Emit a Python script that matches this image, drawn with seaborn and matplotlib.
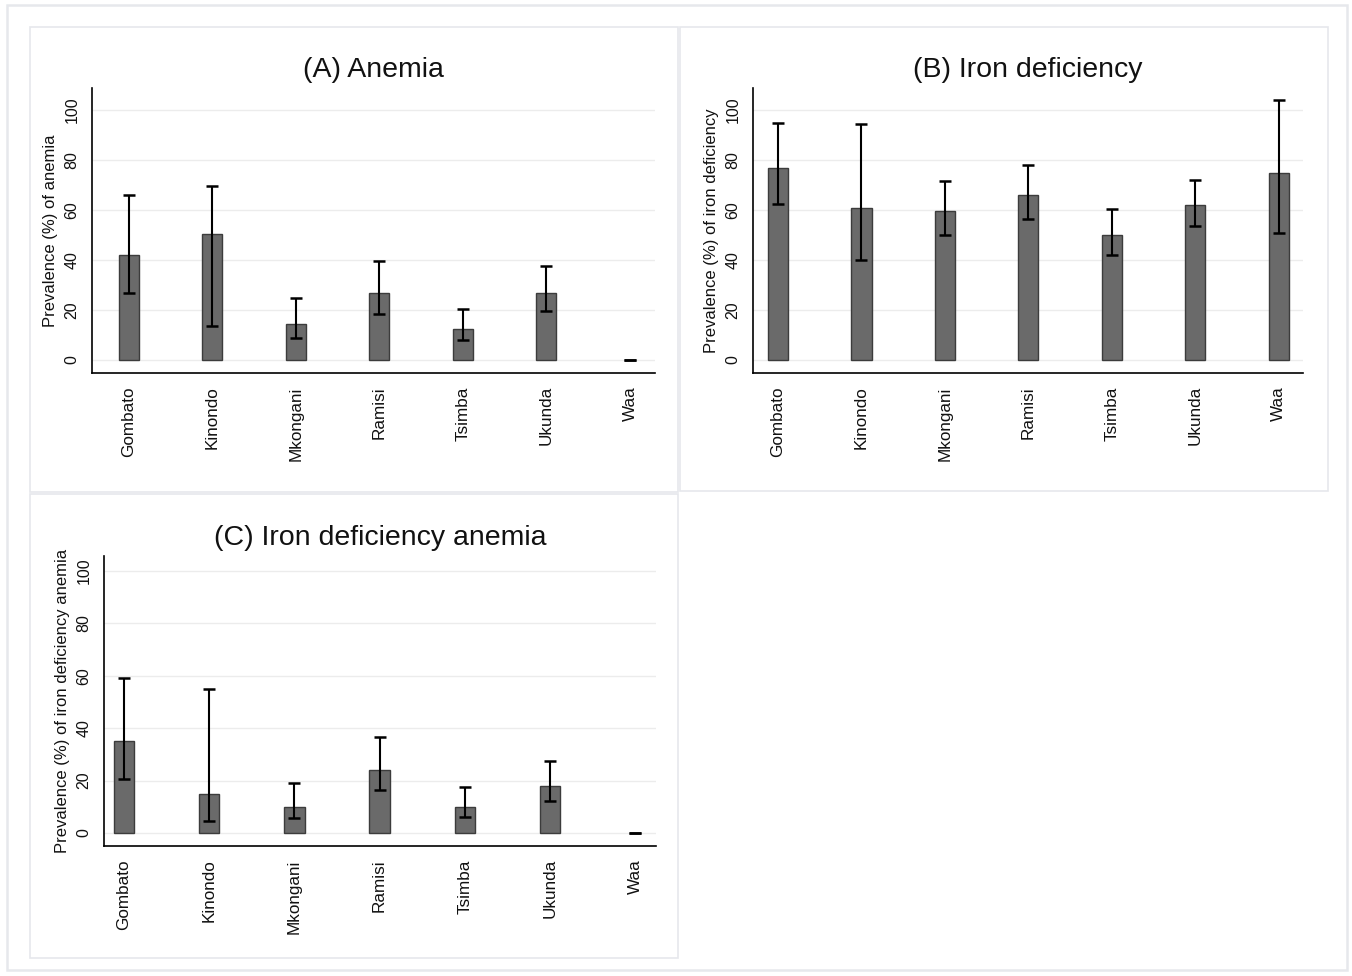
import matplotlib

matplotlib.use("Agg")

import matplotlib.pyplot as plt
import numpy as np
import pandas as pd
import seaborn as sns
from matplotlib.patches import Rectangle

villages = ["Gombato", "Kinondo", "Mkongani", "Ramisi", "Tsimba", "Ukunda", "Waa"]

# (A) Anemia
anemia = [42, 50.5, 14.5, 27, 12.5, 27, 0]
anemia_lo = [27, 13.5, 9, 18.5, 8, 19.5, 0]
anemia_hi = [66, 69.5, 25, 39.5, 20.5, 37.5, 0]

# (B) Iron deficiency
iron_def = [77, 61, 59.5, 66, 50, 62, 75]
iron_def_lo = [62.5, 40, 50, 56.5, 42, 53.5, 51]
iron_def_hi = [95, 94.5, 71.5, 78, 60.5, 72, 104]

# (C) Iron deficiency anemia
ida = [35, 15, 10, 24, 10, 18, 0]
ida_lo = [20.5, 4.5, 5.5, 16.5, 6, 12, 0]
ida_hi = [59, 55, 19, 36.5, 17.5, 27.5, 0]

yticks = [0, 20, 40, 60, 80, 100]

BAR_FILL = "#6a6a6a"
BAR_EDGE = "#3c3c3c"
FRAME = "#e6e8ec"


def draw_panel(ax, values, lo, hi, title, ylabel, xlim, ylim):
    df = pd.DataFrame({"village": villages, "prev": values})
    sns.barplot(data=df, x="village", y="prev", order=villages, ax=ax,
                color=BAR_FILL, saturation=1, width=0.24,
                edgecolor=BAR_EDGE, linewidth=1.0, errorbar=None)
    for p in ax.patches:
        if p.get_height() == 0:
            p.set_linewidth(0)

    xs = [p.get_x() + p.get_width() / 2 for p in ax.patches]
    v = np.array(values, dtype=float)
    yerr = [v - np.array(lo), np.array(hi) - v]
    ax.errorbar(xs, v, yerr=yerr, fmt="none", ecolor="black",
                elinewidth=1.5, capsize=4, capthick=1.8, zorder=3)

    ax.set_xlim(*xlim)
    ax.set_ylim(*ylim)
    ax.set_yticks(yticks)
    ax.set_yticklabels([str(t) for t in yticks], rotation=90, va="center",
                       fontsize=11.5)
    ax.tick_params(axis="x", labelrotation=90, labelsize=12.3, length=6,
                   width=1, color="black", labelcolor="#111111")
    ax.tick_params(axis="y", length=5, width=1, color="#444444", pad=4,
                   labelcolor="#111111")
    ax.set_xlabel("")
    ax.set_ylabel(ylabel, fontsize=12, labelpad=5, color="#111111")
    ax.set_title(title, fontsize=20.5, pad=8, color="#111111")

    ax.grid(axis="y", color="#ececec", linewidth=1)
    ax.grid(axis="x", visible=False)
    ax.set_axisbelow(True)
    for side in ["top", "right"]:
        ax.spines[side].set_visible(False)
    for side in ["left", "bottom"]:
        ax.spines[side].set_color("black")
        ax.spines[side].set_linewidth(1.2)


sns.set_theme(style="white")
plt.rcParams["font.family"] = ["Liberation Sans", "DejaVu Sans"]

W, H = 1352, 976
fig = plt.figure(figsize=(W / 100, H / 100), dpi=100)


def fig_rect(x0, y0, x1, y1):
    # pixel box (top-left origin) to figure fraction [left, bottom, width, height]
    return [x0 / W, 1 - y1 / H, (x1 - x0) / W, (y1 - y0) / H]


# outer frame and panel frames
for box, lw in [((7, 5, 1347, 970), 1.8), ((30, 27, 678, 492), 1.2),
                ((680, 27, 1328, 491), 1.2), ((30, 494, 678, 958), 1.2)]:
    l, b, w, h = fig_rect(*box)
    fig.patches.append(Rectangle((l, b), w, h, transform=fig.transFigure,
                                 fill=False, edgecolor=FRAME, linewidth=lw))

ax_a = fig.add_axes(fig_rect(92, 88, 655, 373))
ax_b = fig.add_axes(fig_rect(753, 88, 1303, 373))
ax_c = fig.add_axes(fig_rect(104, 556, 656, 846))

draw_panel(ax_a, anemia, anemia_lo, anemia_hi, "(A) Anemia",
           "Prevalence (%) of anemia", (-0.44, 6.30), (-5.2, 108.8))
draw_panel(ax_b, iron_def, iron_def_lo, iron_def_hi, "(B) Iron deficiency",
           "Prevalence (%) of iron deficiency", (-0.30, 6.29), (-5.2, 108.8))
draw_panel(ax_c, ida, ida_lo, ida_hi, "(C) Iron deficiency anemia",
           "Prevalence (%) of iron deficiency anemia", (-0.235, 6.245), (-5.0, 105.7))

fig.savefig("out.png", dpi=100)
plt.close(fig)
